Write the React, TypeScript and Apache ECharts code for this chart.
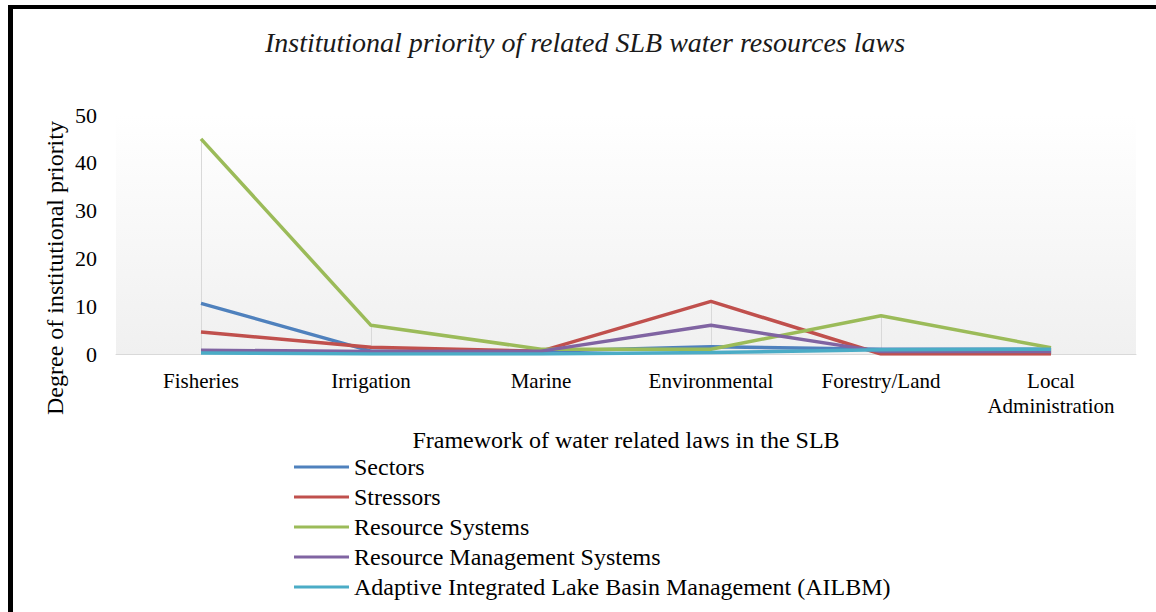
import React, { useEffect, useRef } from "react";
import * as echarts from "echarts";

const categories = ["Fisheries", "Irrigation", "Marine", "Environmental", "Forestry/Land", "Local\nAdministration"];
const seriesNames = [
  "Sectors",
  "Stressors",
  "Resource Systems",
  "Resource Management Systems",
  "Adaptive Integrated Lake Basin Management (AILBM)",
];
const sectors = [10.6, 0.6, 0.6, 1.5, 1, 1];
const stressors = [4.6, 1.4, 0.6, 11, 0, 0];
const resourceSystems = [45, 6, 1, 1, 8, 1.3];
const resourceManagement = [0.8, 0.5, 0.6, 6, 0.5, 0.5];
const ailbm = [0.2, 0, 0, 0.3, 0.9, 1];
const yTicks = { min: 0, max: 50, interval: 10 };
const colors = ["#4F81BD", "#C0504D", "#9BBB59", "#8064A2", "#4BACC6"];

const FONT = "Liberation Serif, serif";

export default function App() {
  const ref = useRef<HTMLDivElement>(null);
  useEffect(() => {
    if (!ref.current) return;
    const chart = echarts.init(ref.current, null, { renderer: "svg" });
    const all = [sectors, stressors, resourceSystems, resourceManagement, ailbm];
    const maxPerCat = categories.map((_, i) => Math.max(...all.map((s) => s[i])));
    const dropLines = maxPerCat.map((m, i) => [
      { coord: [i, 0] },
      { coord: [i, m] },
    ]);
    chart.setOption({
      animation: false,
      backgroundColor: "#ffffff",
      color: colors,
      title: {
        text: "Institutional priority of related SLB water resources laws",
        left: 585,
        top: 28,
        textAlign: "center",
        padding: 0,
        textStyle: { fontFamily: FONT, fontStyle: "italic", fontWeight: "normal", fontSize: 28, color: "#1a1a1a" },
      },
      grid: {
        left: 116,
        right: 20,
        top: 115,
        bottom: 258,
        show: true,
        borderWidth: 0,
        backgroundColor: new echarts.graphic.LinearGradient(0, 0, 0, 1, [
          { offset: 0, color: "#ffffff" },
          { offset: 1, color: "#f0f0f0" },
        ]),
      },
      legend: {
        orient: "vertical",
        left: 294,
        top: 455,
        padding: 0,
        icon: "rect",
        itemWidth: 55,
        itemHeight: 3,
        itemGap: 6,
        data: seriesNames,
        textStyle: { fontFamily: FONT, fontSize: 24, lineHeight: 24, color: "#000" },
      },
      xAxis: {
        type: "category",
        data: categories,
        boundaryGap: true,
        name: "Framework of water related laws in the SLB",
        nameLocation: "middle",
        nameGap: 74,
        nameTextStyle: { fontFamily: FONT, fontSize: 24, color: "#000" },
        axisLine: { lineStyle: { color: "#d9d9d9", width: 1 } },
        axisTick: { show: false },
        splitLine: { show: false },
        axisLabel: { fontFamily: FONT, fontSize: 21, lineHeight: 25, color: "#000", margin: 14, interval: 0 },
      },
      yAxis: {
        type: "value",
        min: yTicks.min,
        max: yTicks.max,
        interval: yTicks.interval,
        axisLine: { show: false },
        axisTick: { show: false },
        splitLine: { show: false },
        axisLabel: { fontFamily: FONT, fontSize: 22, color: "#000", margin: 19 },
      },
      graphic: [
        { type: "rect", shape: { x: 8, y: 5, width: 1148, height: 4 }, style: { fill: "#000" } },
        { type: "rect", shape: { x: 8, y: 5, width: 5, height: 607 }, style: { fill: "#000" } },
        {
          type: "text",
          x: 55,
          y: 268,
          rotation: Math.PI / 2,
          style: {
            text: "Degree of institutional priority",
            fontFamily: FONT,
            fontSize: 24,
            fill: "#000",
            align: "center",
            verticalAlign: "middle",
          },
        },
      ],
      series: seriesNames.map((name, k) => ({
        name,
        type: "line",
        data: all[k],
        symbol: "none",
        lineStyle: { width: 3.5, color: colors[k] },
        z: 3,
        ...(k === 0
          ? {
              markLine: {
                silent: true,
                symbol: "none",
                label: { show: false },
                lineStyle: { color: "#d9d9d9", width: 1, type: "solid" },
                z: 1,
                data: dropLines,
              },
            }
          : {}),
      })),
    });
    return () => chart.dispose();
  }, []);
  return <div ref={ref} style={{ position: "fixed", left: 0, top: 0, width: 1156, height: 612 }} />;
}
